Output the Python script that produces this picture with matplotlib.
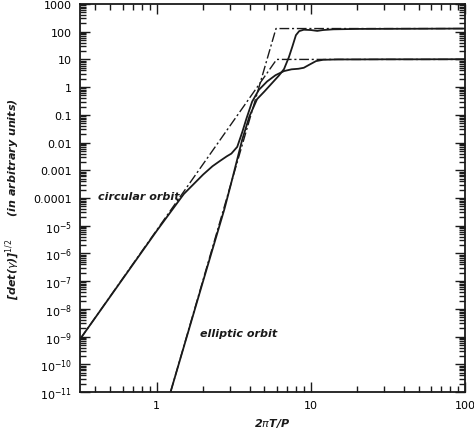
import matplotlib
matplotlib.use('Agg')
import matplotlib.pyplot as plt
from matplotlib.ticker import FixedLocator, FixedFormatter, LogLocator, NullFormatter

# circular orbit (solid) and its asymptote (dash-dot)
circ_x = [0.318, 1.0, 1.5, 2.0, 2.3, 2.55, 2.85, 3.05, 3.33, 3.6, 3.81, 4.16, 4.6, 5.2,
          5.9, 6.7, 7.5, 8.3, 9.0, 9.8, 10.8, 12, 15, 20, 30, 50, 100]
circ_y = [8e-10, 6.5e-6, 1.4e-4, 7e-4, 1.4e-3, 2.1e-3, 3.2e-3, 4e-3, 7e-3, 0.025, 0.07, 0.3,
          0.8, 1.6, 2.7, 3.8, 4.4, 4.6, 5.0, 6.5, 8.7, 9.7, 10, 10, 10.1, 10.1, 10.2]
circ_asym_x = [0.318, 6.0, 100]
circ_asym_y = [8e-10, 10, 10]

# elliptic orbit (solid) and its asymptote (dash-dot)
ell_x = [1.23, 2.0, 2.75, 3.09, 3.59, 4.0, 4.48, 5.0, 5.6, 6.2, 6.7, 7.2, 7.6, 8.0, 8.4,
         9.0, 10, 11, 12, 14, 20, 50, 100]
ell_y = [1e-11, 1e-7, 4e-5, 4.8e-4, 0.013, 0.09, 0.37, 0.7, 1.4, 2.6, 4.5, 12, 30, 75, 105,
         118, 115, 107, 115, 122, 126, 128, 130]
ell_asym_x = [1.23, 5.94, 100]
ell_asym_y = [1e-11, 130, 130]

ytick_vals = [1e3, 1e2, 1e1, 1, 0.1, 0.01, 0.001, 0.0001,
              1e-5, 1e-6, 1e-7, 1e-8, 1e-9, 1e-10, 1e-11]
ytick_labels = ['1000', '100', '10', '1', '0.1', '0.01', '0.001', '0.0001',
                '10$^{-5}$', '10$^{-6}$', '10$^{-7}$', '10$^{-8}$', '10$^{-9}$',
                '10$^{-10}$', '10$^{-11}$']
xtick_vals = [1, 10, 100]
xtick_labels = ['1', '10', '100']

fig = plt.figure(figsize=(4.74, 4.39), dpi=100)
ax = fig.add_axes([80/474, 1-393/439, 385/474, 388/439])

col = '#1a1a1a'
ax.plot(circ_asym_x, circ_asym_y, color=col, lw=1.0, ls=(0, (7, 2, 1.5, 2)))
ax.plot(ell_asym_x, ell_asym_y, color=col, lw=1.0, ls=(0, (7, 2, 1.5, 2)))
ax.plot(circ_x, circ_y, color=col, lw=1.3)
ax.plot(ell_x, ell_y, color=col, lw=1.3)

ax.set_xscale('log')
ax.set_yscale('log')
ax.set_xlim(0.318, 100)
ax.set_ylim(1e-11, 1e3)

ax.yaxis.set_major_locator(FixedLocator(ytick_vals))
ax.yaxis.set_major_formatter(FixedFormatter(ytick_labels))
ax.yaxis.set_minor_locator(LogLocator(base=10, subs=range(2, 10), numticks=50))
ax.yaxis.set_minor_formatter(NullFormatter())
ax.xaxis.set_major_locator(FixedLocator(xtick_vals))
ax.xaxis.set_major_formatter(FixedFormatter(xtick_labels))
ax.xaxis.set_minor_locator(LogLocator(base=10, subs=range(2, 10), numticks=50))
ax.xaxis.set_minor_formatter(NullFormatter())

ax.tick_params(which='both', direction='in', top=True, right=True, color=col, width=1.0)
ax.tick_params(which='major', length=7, labelsize=8, pad=6)
ax.tick_params(which='minor', length=4)
for s in ax.spines.values():
    s.set_linewidth(1.3)
    s.set_color(col)

lab = dict(fontsize=8, fontweight='bold', fontstyle='italic', color=col)
ax.text(1.41, 1.2e-4, 'circular orbit', ha='right', va='center', **lab)
ax.text(1.9, 1.3e-9, 'elliptic orbit', ha='left', va='center', **lab)

ax.set_xlabel(r'2$\pi$T/P', labelpad=4, **lab)
ax.set_ylabel(r'[det($\gamma$)]$^{1/2}$      (in arbitrary units)', labelpad=8, **lab)

fig.savefig('out.png', dpi=100)
